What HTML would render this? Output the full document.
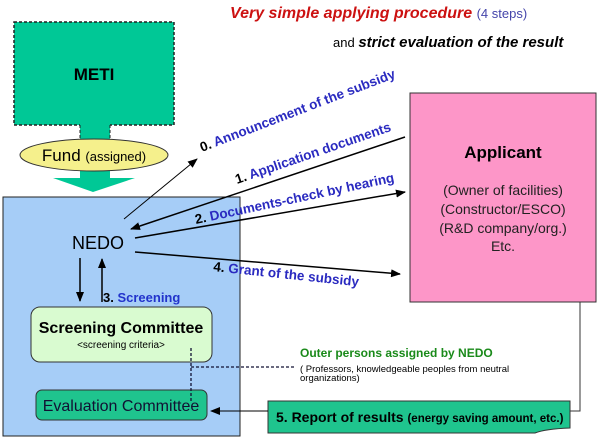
<!DOCTYPE html>
<html><head><style>
html,body{margin:0;padding:0;background:#fff;}
svg{display:block;font-family:"Liberation Sans",Arial,sans-serif;}
</style></head><body>
<svg width="600" height="439" viewBox="0 0 600 439" xmlns="http://www.w3.org/2000/svg">
<defs>
<marker id="ah" markerWidth="10" markerHeight="8" refX="9" refY="4" orient="auto" markerUnits="userSpaceOnUse">
<path d="M0,0 L10,4 L0,8 z" fill="#000"/></marker>
</defs>
<text x="230" y="18" font-size="16" font-weight="bold" font-style="italic" fill="#cc1111">Very simple applying procedure <tspan font-size="13" font-weight="normal" font-style="normal" fill="#4444aa">(4 steps)</tspan></text>
<text x="333" y="47" font-size="13" fill="#000">and <tspan font-size="15" font-weight="bold" font-style="italic">strict evaluation of the result</tspan></text>

<rect x="14" y="22" width="160" height="103" fill="#00c896" stroke="#222" stroke-width="1.5" stroke-dasharray="3,2"/>
<text x="94" y="80" font-size="17" font-weight="bold" text-anchor="middle">METI</text>
<rect x="80" y="124" width="30" height="16" fill="#00c896"/>
<path d="M80,125 V139 M110,125 V139" stroke="#222" stroke-dasharray="3,2"/>
<path d="M80,168 H110 V178 H135 L93,192 L53,178 H80 Z" fill="#00c896"/>
<ellipse cx="94" cy="155" rx="74" ry="16" fill="#f5f08c" stroke="#333"/>
<text x="94" y="161" font-size="17" text-anchor="middle">Fund <tspan font-size="13">(assigned)</tspan></text>

<rect x="3" y="197" width="237" height="239" fill="#a6cdf7" stroke="#222"/>
<text x="98" y="249" font-size="18" text-anchor="middle">NEDO</text>
<line x1="80" y1="258" x2="80" y2="301" stroke="#000" stroke-width="1.5" marker-end="url(#ah)"/>
<line x1="102" y1="302" x2="102" y2="259" stroke="#000" stroke-width="1.5" marker-end="url(#ah)"/>
<text x="103" y="302" font-size="13" font-weight="bold" fill="#2233cc"><tspan fill="#000">3.</tspan> Screening</text>

<rect x="31" y="307" width="181" height="55" rx="9" fill="#d9fbd0" stroke="#333"/>
<text x="121" y="333" font-size="16" font-weight="bold" text-anchor="middle">Screening Committee</text>
<text x="121" y="348" font-size="10" text-anchor="middle">&lt;screening criteria&gt;</text>

<rect x="36" y="390" width="171" height="30" rx="6" fill="#1fc48e" stroke="#333"/>
<text x="121" y="411" font-size="16" text-anchor="middle" fill="#113">Evaluation Committee</text>

<path d="M191,348 V403 M191,367 H296" stroke="#113" stroke-width="1.3" stroke-dasharray="3,2" fill="none"/>

<text x="300" y="357" font-size="12" font-weight="bold" fill="#1a8a1a">Outer persons assigned by NEDO</text>
<text x="300" y="372" font-size="9.5" fill="#000">( Professors, knowledgeable peoples from neutral</text>
<text x="300" y="381" font-size="9.5" fill="#000">organizations)</text>

<rect x="410" y="93" width="186" height="209" fill="#fd96c8" stroke="#333"/>
<text x="503" y="158" font-size="17" font-weight="bold" text-anchor="middle">Applicant</text>
<g font-size="14" text-anchor="middle" fill="#222">
<text x="503" y="195">(Owner of facilities)</text>
<text x="503" y="214">(Constructor/ESCO)</text>
<text x="503" y="233">(R&amp;D company/org.)</text>
<text x="503" y="251">Etc.</text>
</g>

<path d="M580,302 V411 H570" stroke="#333" fill="none"/>
<path d="M268,401 H570 V428 Q545,429 535,433 H268 Z" fill="#1fc48e" stroke="#333"/>
<text x="276" y="422" font-size="14" font-weight="bold">5. Report of results <tspan font-size="11.5">(energy saving amount, etc.)</tspan></text>
<line x1="268" y1="411" x2="211" y2="411" stroke="#000" marker-end="url(#ah)"/>

<line x1="124" y1="219" x2="197" y2="159" stroke="#000" marker-end="url(#ah)"/>
<line x1="405" y1="137" x2="131" y2="229" stroke="#000" stroke-width="1.5" marker-end="url(#ah)"/>
<line x1="135" y1="238" x2="405" y2="192" stroke="#000" stroke-width="1.5" marker-end="url(#ah)"/>
<line x1="135" y1="252" x2="400" y2="274" stroke="#000" stroke-width="1.5" marker-end="url(#ah)"/>

<g font-size="13.5" font-weight="bold" fill="#2a2ac0">
<text transform="translate(202,152) rotate(-21)"><tspan fill="#000">0.</tspan> Announcement of the subsidy</text>
<text transform="translate(237,184) rotate(-19)"><tspan fill="#000">1.</tspan> Application documents</text>
<text transform="translate(196,224) rotate(-12)"><tspan fill="#000">2.</tspan> Documents-check by hearing</text>
<text transform="translate(213,271) rotate(6)"><tspan fill="#000">4.</tspan> Grant of the subsidy</text>
</g>
</svg>
</body></html>
